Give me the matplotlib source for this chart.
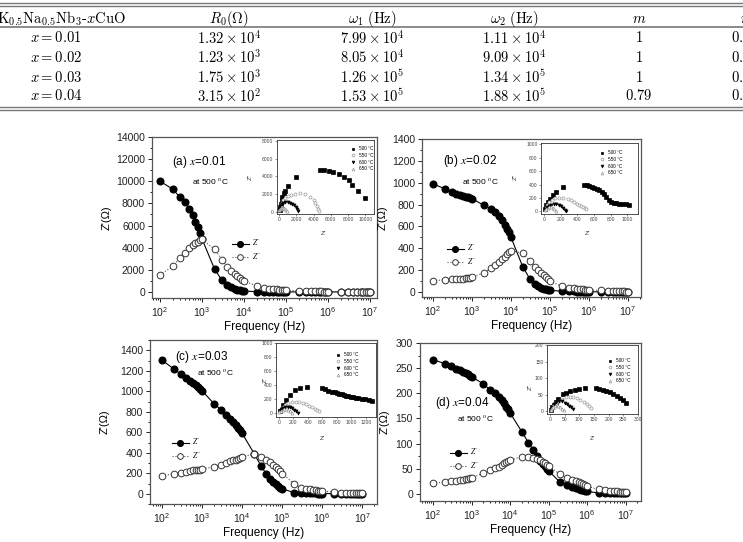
import matplotlib
matplotlib.use("Agg")
import matplotlib.pyplot as plt
from matplotlib.lines import Line2D
from matplotlib.ticker import MultipleLocator, LogLocator, LogFormatterMathtext, NullFormatter

plt.rcParams['font.family'] = ['Liberation Sans', 'DejaVu Sans']
plt.rcParams['mathtext.fontset'] = 'stix'

# ---------------- table data ----------------
tab_header = [r"$\mathrm{K_{0.5}Na_{0.5}Nb_{3}\text{-}}x\mathrm{CuO}$", r"$R_0(\Omega)$",
              r"$\omega_1\ \mathrm{(Hz)}$", r"$\omega_2\ \mathrm{(Hz)}$", r"$m$", r"$n$"]
tab_x = [r"$x = 0.01$", r"$x = 0.02$", r"$x = 0.03$", r"$x = 0.04$"]
tab_r0 = [r"$1.32\times10^{4}$", r"$1.23\times10^{3}$", r"$1.75\times10^{3}$", r"$3.15\times10^{2}$"]
tab_w1 = [r"$7.99\times10^{4}$", r"$8.05\times10^{4}$", r"$1.26\times10^{5}$", r"$1.53\times10^{5}$"]
tab_w2 = [r"$1.11\times10^{4}$", r"$9.09\times10^{4}$", r"$1.34\times10^{5}$", r"$1.88\times10^{5}$"]
tab_m = [r"$1$", r"$1$", r"$1$", r"$0.79$"]
tab_n = [r"$0.76$", r"$0.55$", r"$0.15$", r"$0.25$"]

# ---------------- spectra (frequency, Z', Z'') ----------------
freq = [1e2, 2e2, 3e2, 4e2, 5e2, 6e2, 7e2, 8e2, 9e2,
        1e3, 2e3, 3e3, 4e3, 5e3, 6e3, 7e3, 8e3, 9e3,
        1e4, 2e4, 3e4, 4e4, 5e4, 6e4, 7e4, 8e4, 9e4,
        1e5, 2e5, 3e5, 4e5, 5e5, 6e5, 7e5, 8e5, 9e5,
        1e6, 2e6, 3e6, 4e6, 5e6, 6e6, 7e6, 8e6, 9e6,
        1e7]

a_zr = [10000, 9300, 8550, 8100, 7500, 6950, 6300, 5850, 5300, 4800,
        2050, 1050, 660, 450, 300, 210, 150, 100, 70,
        30, 15, 10, 8, 6, 5, 4, 3, 3,
        2, 2, 2, 2, 2, 2, 2, 2, 2,
        1, 1, 1, 1, 1, 1, 1, 1, 1]
a_zi = [1550, 2300, 3100, 3550, 3950, 4200, 4400, 4550, 4700, 4750,
        3850, 2920, 2260, 1900, 1660, 1450, 1270, 1110, 990,
        540, 390, 300, 250, 220, 200, 180, 160, 150,
        90, 70, 60, 50, 45, 40, 35, 32, 30,
        25, 22, 20, 18, 16, 15, 14, 13, 12]

b_zr = [990, 945, 912, 898, 888, 880, 872, 866, 860, 855,
        794, 763, 732, 695, 655, 618, 581, 547, 500,
        232, 124, 77, 53, 40, 30, 25, 20, 15,
        9, 7, 6, 5, 4, 4, 3, 3, 3,
        2, 2, 2, 2, 2, 2, 2, 2, 2]
b_zi = [102, 114, 117, 120, 124, 124, 127, 130, 133, 136,
        176, 216, 247, 278, 303, 324, 346, 362, 380,
        355, 287, 232, 201, 179, 160, 139, 124, 102,
        53, 40, 34, 30, 27, 25, 23, 22, 20,
        15, 12, 10, 9, 8, 7, 6, 5, 5]

c_zr = [1303, 1216, 1164, 1125, 1103, 1077, 1061, 1038, 1022, 1005,
        877, 820, 770, 730, 700, 670, 645, 620, 590,
        392, 269, 194, 146, 113, 91, 74, 58, 49,
        10, 6, 5, 4, 3, 3, 2, 2, 2,
        1, 1, 0, 0, 0, 0, 0, 0, 0]
c_zi = [175, 196, 204, 214, 220, 227, 230, 233, 236, 242,
        262, 285, 301, 317, 327, 333, 340, 350, 359,
        388, 359, 333, 307, 285, 262, 243, 220, 197,
        97, 58, 49, 42, 37, 33, 30, 28, 26,
        16, 12, 10, 8, 7, 6, 5, 4, 3]

d_zr = [267, 259, 254, 249, 246, 243, 241, 238, 235, 233,
        219, 207, 200, 193, 186, 180, 173, 168, 161,
        124, 102, 87, 75, 66, 60, 55, 50, 46,
        23, 17, 13, 11, 9, 8, 7, 6, 5,
        2, 2, 1, 1, 1, 1, 1, 1, 1]
d_zi = [21, 24, 26, 26, 28, 28, 29, 30, 31, 32,
        41, 48, 51, 54, 57, 61, 64, 66, 67,
        74, 73, 71, 70, 68, 64, 61, 58, 55,
        39, 31, 28, 26, 23, 21, 19, 17, 15,
        9, 7, 6, 5, 5, 4, 4, 3, 3]

# ---------------- Nyquist insets (Z', Z'') per temperature ----------------
temps = ["500 \u00b0C", "550 \u00b0C", "600 \u00b0C", "650 \u00b0C"]

ia_500_x = [60, 120, 200, 300, 400, 550, 700, 1000, 2000, 4800, 5200, 5800, 6300, 6900, 7500, 8100, 8500, 9200, 10000]
ia_500_y = [200, 500, 900, 1300, 1700, 2100, 2400, 2900, 3900, 4700, 4700, 4650, 4500, 4250, 3950, 3600, 3050, 2300, 1550]
ia_550_x = [100, 200, 350, 500, 700, 1000, 1400, 1900, 2400, 3000, 3600, 4000, 4200, 4350, 4500, 4600]
ia_550_y = [300, 650, 1000, 1300, 1550, 1750, 1950, 2050, 2100, 2050, 1700, 1350, 1000, 650, 350, 100]
ia_600_x = [50, 150, 300, 500, 750, 1000, 1250, 1500, 1750, 1950, 2100, 2200]
ia_600_y = [300, 600, 850, 1000, 1060, 1050, 1000, 900, 750, 550, 300, 80]
ia_650_x = [30, 100, 200, 300, 400, 500, 600, 700, 800, 870]
ia_650_y = [150, 300, 400, 450, 460, 430, 380, 300, 180, 60]

ib_500_x = [10, 25, 45, 70, 100, 140, 230, 480, 510, 540, 570, 600, 630, 660, 690, 720, 750, 780, 810, 840, 870, 900, 940, 980, 1020]
ib_500_y = [40, 90, 140, 190, 240, 290, 360, 395, 390, 380, 370, 355, 340, 320, 295, 260, 220, 175, 140, 125, 118, 115, 112, 108, 100]
ib_550_x = [15, 35, 60, 90, 130, 180, 230, 280, 320, 360, 390, 420, 445, 465, 485, 500]
ib_550_y = [50, 100, 140, 170, 195, 205, 205, 190, 165, 135, 110, 90, 75, 60, 45, 30]
ib_600_x = [10, 30, 55, 85, 115, 145, 175, 205, 230, 250, 265]
ib_600_y = [30, 60, 85, 100, 108, 105, 95, 75, 50, 25, 5]
ib_650_x = [8, 20, 40, 60, 80, 100, 120, 140]
ib_650_y = [20, 40, 55, 60, 58, 48, 32, 10]

ic_500_x = [20, 56, 103, 149, 218, 288, 389, 589, 635, 681, 727, 770, 800, 835, 867, 900, 930, 959, 990, 1028, 1060, 1097, 1140, 1190, 1240, 1283]
ic_500_y = [40, 120, 190, 260, 330, 355, 380, 355, 343, 323, 309, 300, 295, 283, 271, 260, 252, 247, 240, 233, 225, 214, 207, 200, 190, 176]
ic_550_x = [20, 50, 90, 130, 180, 230, 280, 330, 380, 420, 460, 500, 530, 555]
ic_550_y = [40, 90, 125, 150, 160, 162, 158, 148, 130, 110, 90, 70, 50, 30]
ic_600_x = [10, 30, 60, 90, 120, 150, 180, 210, 240, 265]
ic_600_y = [30, 60, 80, 88, 90, 85, 72, 55, 32, 10]
ic_650_x = [8, 25, 50, 75, 100, 125, 150, 175]
ic_650_y = [20, 40, 55, 60, 57, 47, 30, 8]

id_500_x = [3, 8, 14, 20, 26, 45, 55, 67, 85, 100, 119, 157, 168, 180, 192, 204, 216, 228, 240, 250, 260]
id_500_y = [5, 12, 20, 28, 36, 52, 56, 60, 63, 66, 69, 71, 68, 65, 61, 57, 52, 46, 40, 33, 26]
id_550_x = [5, 12, 20, 30, 42, 55, 68, 80, 92, 104, 115, 125, 133, 140]
id_550_y = [8, 16, 24, 32, 38, 42, 44, 43, 40, 35, 28, 22, 16, 10]
id_600_x = [3, 8, 14, 22, 30, 40, 50, 58, 66, 72, 78]
id_600_y = [6, 14, 22, 28, 32, 30, 25, 21, 17, 12, 6]
id_650_x = [2, 6, 11, 17, 23, 29, 35, 41, 47]
id_650_y = [4, 9, 14, 17, 18, 16, 12, 8, 3]

W, H = 743, 542
fig = plt.figure(figsize=(W / 100, H / 100), dpi=100)
fig.patch.set_facecolor('white')


def fx(x):
    return x / W


def fy(y):
    return 1 - y / H


def box(l, t, r, b):
    return [l / W, 1 - b / H, (r - l) / W, (b - t) / H]


def hline(y, lw=1.0, c='#777777'):
    fig.add_artist(Line2D([0, 1], [fy(y), fy(y)], transform=fig.transFigure, color=c, lw=lw))


# ---------------- table ----------------
hline(2.5); hline(5.5)
hline(27, lw=1.2)
hline(107); hline(110)

col_x = [56, 229, 372, 514, 639, 745]
row_y = [38, 57, 77, 96]
fig.text(fx(-3), fy(19), tab_header[0], ha='left', va='center', fontsize=10.5, math_fontfamily='cm')
for cx, h in zip(col_x[1:], tab_header[1:]):
    fig.text(fx(cx), fy(19), h, ha='center', va='center', fontsize=10.5, math_fontfamily='cm')
for i, ry in enumerate(row_y):
    for cx, col in zip(col_x, [tab_x, tab_r0, tab_w1, tab_w2, tab_m, tab_n]):
        fig.text(fx(cx), fy(ry), col[i], ha='center', va='center', fontsize=10.5, math_fontfamily='cm')


# ---------------- panels ----------------
def main_panel(rect, xl, yl, ystep, zr, zi, label, lab_xy, at_xy, leg_xy, ylab_x):
    ax = fig.add_axes(box(*rect))
    ax.plot(freq, zr, '-', color='black', lw=0.8, marker='o', ms=4.8, mfc='black', mec='black',
            label="$Z'$", zorder=3)
    ax.plot(freq, zi, ':', color='#555555', lw=0.8, marker='o', ms=4.8, mfc='white', mec='#333333',
            mew=0.7, label="$Z''$", zorder=4)
    ax.set_xscale('log')
    ax.set_xlim(10 ** xl[0], 10 ** xl[1])
    ax.set_ylim(*yl)
    ax.yaxis.set_major_locator(MultipleLocator(ystep))
    ax.yaxis.set_minor_locator(MultipleLocator(ystep / 2))
    ax.set_yticks([t for t in ax.get_yticks() if t >= 0 and t <= yl[1]])
    ax.xaxis.set_major_locator(LogLocator(base=10, numticks=10))
    ax.xaxis.set_major_formatter(LogFormatterMathtext())
    ax.xaxis.set_minor_locator(LogLocator(base=10, subs=range(2, 10), numticks=20))
    ax.xaxis.set_minor_formatter(NullFormatter())
    ax.tick_params(which='major', direction='out', length=3, width=0.7, labelsize=7.5, pad=2, colors='#222222')
    ax.tick_params(which='minor', direction='out', length=1.6, width=0.6)
    for s in ax.spines.values():
        s.set_color('#555555')
        s.set_linewidth(0.9)
    ax.set_xlabel('Frequency (Hz)', fontsize=8.5, labelpad=1.5)
    ax.set_ylabel("Z'(\u03a9)", fontsize=8)
    ax.yaxis.set_label_coords((ylab_x - rect[0]) / (rect[2] - rect[0]), 0.5)
    fig.text(fx(lab_xy[0]), fy(lab_xy[1]), label, fontsize=8.5, ha='left', va='center')
    fig.text(fx(at_xy[0]), fy(at_xy[1]), "at 500 $^{\\mathrm{o}}$C", fontsize=6, ha='left', va='center')
    ax.legend(loc='upper left', bbox_to_anchor=(fx(leg_xy[0]), fy(leg_xy[1])), bbox_transform=fig.transFigure,
              frameon=False, fontsize=5.5, handlelength=2.2, labelspacing=0.25, handletextpad=0.4,
              borderpad=0, markerscale=0.85)
    return ax


def inset(rect, xl, yl, xstep, ystep, series, leg_xy, zr_xy, zi_xy):
    ax = fig.add_axes(box(*rect))
    styles = [('s', 'black', 'black'), ('o', 'white', '#999999'), ('v', 'black', 'black'), ('^', 'white', '#999999')]
    for (xs, ys), lab, (mk, fc, ec) in zip(series, temps, styles):
        ax.plot(xs, ys, ls='none', marker=mk, ms=2.2, mfc=fc, mec=ec, mew=0.5, label=lab)
    ax.set_xlim(*xl)
    ax.set_ylim(*yl)
    ax.xaxis.set_major_locator(MultipleLocator(xstep))
    ax.yaxis.set_major_locator(MultipleLocator(ystep))
    ax.set_xticks([t for t in ax.get_xticks() if 0 <= t <= xl[1]])
    ax.set_yticks([t for t in ax.get_yticks() if 0 <= t <= yl[1]])
    ax.tick_params(direction='out', length=1.5, width=0.4, labelsize=3.6, pad=1, colors='#444444')
    for s in ax.spines.values():
        s.set_color('#333333')
        s.set_linewidth(0.6)
    ax.legend(loc='upper left', bbox_to_anchor=(fx(leg_xy[0]), fy(leg_xy[1])), bbox_transform=fig.transFigure,
              frameon=False, fontsize=3.4, handlelength=0.8, labelspacing=0.35, handletextpad=0.8,
              borderpad=0, markerscale=0.9)
    fig.text(fx(zr_xy[0]), fy(zr_xy[1]), "Z'", fontsize=4.5, ha='center', va='center', color='#333333')
    fig.text(fx(zi_xy[0]), fy(zi_xy[1]), "Z''", fontsize=4.5, ha='center', va='center', color='#333333',
             rotation=90)
    return ax


main_panel((152, 137, 377, 298), (1.81, 7.17), (-550, 14000), 2000, a_zr, a_zi,
           "(a) $x$=0.01", (172, 162), (192, 182), (228, 233), 112)
inset((277, 140, 374, 214), (-230, 11000), (-250, 8100), 2000, 2000,
      [(ia_500_x, ia_500_y), (ia_550_x, ia_550_y), (ia_600_x, ia_600_y), (ia_650_x, ia_650_y)],
      (349, 144), (323, 233), (250, 177))

main_panel((422, 139, 641, 297), (1.72, 7.33), (-45, 1400), 200, b_zr, b_zi,
           "(b) $x$=0.02", (443, 161), (462, 182), (443, 238), 388)
inset((541, 143, 638, 214), (-40, 1130), (-40, 1020), 200, 200,
      [(ib_500_x, ib_500_y), (ib_550_x, ib_550_y), (ib_600_x, ib_600_y), (ib_650_x, ib_650_y)],
      (598, 148), (587, 233), (515, 177))

main_panel((150, 340, 377, 504), (1.70, 7.37), (-100, 1500), 200, c_zr, c_zi,
           "(c) $x$=0.03", (175, 357), (197, 373), (168, 432), 110)
inset((276, 343, 376, 417), (-40, 1340), (-50, 1000), 200, 200,
      [(ic_500_x, ic_500_y), (ic_550_x, ic_550_y), (ic_600_x, ic_600_y), (ic_650_x, ic_650_y)],
      (334, 350), (322, 438), (265, 380))

main_panel((420, 343, 641, 501), (1.66, 7.40), (-14, 300), 50, d_zr, d_zi,
           "(d) $x$=0.04", (435, 403), (457, 419), (446, 442), 390)
inset((547, 345, 638, 414), (-10, 300), (-8, 200), 50, 50,
      [(id_500_x, id_500_y), (id_550_x, id_550_y), (id_600_x, id_600_y), (id_650_x, id_650_y)],
      (606, 356), (592, 438), (530, 387))

fig.savefig('out.png', dpi=100)
